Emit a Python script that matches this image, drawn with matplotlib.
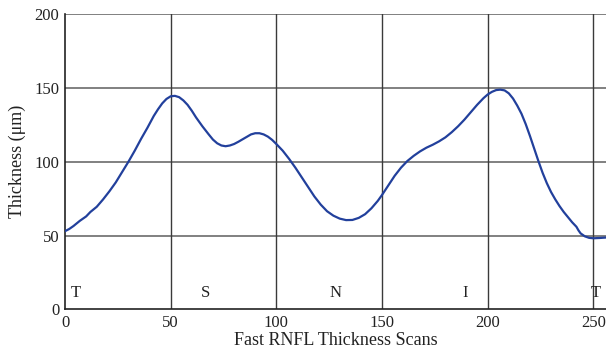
import matplotlib
matplotlib.use("Agg")
import matplotlib.pyplot as plt

# Fast RNFL thickness profile
scan = [0, 2, 4, 7, 10, 12, 15, 18, 21, 24, 27, 30, 33, 36, 39, 42, 44, 46, 48, 50,
        52, 54, 56, 58, 60, 62, 65, 68, 70, 72, 74, 76, 78, 80, 82, 85, 88, 90, 92,
        94, 96, 98, 100, 103, 106, 109, 112, 115, 118, 121, 124, 127, 130, 133, 136,
        139, 142, 145, 148, 150, 153, 156, 159, 162, 165, 168, 171, 174, 177, 180,
        183, 186, 189, 192, 195, 198, 200, 202, 204, 206, 208, 210, 212, 214, 216,
        218, 220, 222, 224, 226, 228, 230, 232, 234, 236, 238, 240, 242, 243, 244,
        246, 248, 250, 253, 256]
thickness = [53, 54.5, 56.5, 60, 63, 66, 69.5, 74.5, 80, 86, 93, 100, 107.5, 115.5, 123, 131, 135.5, 139.5, 142.5, 144.3,
             144.6, 143.7, 141.5, 138.5, 134.5, 130, 124, 118.5, 115, 112.5, 111, 110.5, 111, 112, 113.5, 116, 118.5, 119.3, 119.3,
             118.5, 117, 114.8, 112, 107.5, 102, 96, 89.5, 83, 76.5, 71, 66.5, 63.5, 61.5, 60.5, 60.6,
             62, 64.5, 68.5, 73.5, 77.5, 84, 90.5, 96, 100.5, 104, 107, 109.5, 111.5, 113.8, 116.5,
             120, 124, 128.5, 133.5, 138.5, 143, 145.5, 147.3, 148.5, 148.8, 148.3, 146.3, 142.8, 138, 132.5,
             125.5, 117.5, 109, 100.5, 92.5, 85.5, 79.5, 74.5, 70, 66, 62.5, 59, 56, 53.5, 51.5,
             49.5, 48.5, 48.2, 48.4, 48.7]

sector_x = [5, 66.5, 128, 189.5, 251]
sector_labels = ["T", "S", "N", "I", "T"]

xticks = [0, 50, 100, 150, 200, 250]
yticks = [0, 50, 100, 150, 200]

plt.rcParams['font.family'] = ['Liberation Serif', 'DejaVu Serif']

fig = plt.figure(figsize=(6.06, 3.58), dpi=100)
ax = fig.add_axes([0.1073, 0.1355, 0.8927, 0.8254])

for v in yticks[1:]:
    ax.axhline(v, color='#6b6b6b', lw=1.2, zorder=1)
for v in xticks[1:]:
    ax.axvline(v, color='#3a3a3a', lw=1.0, zorder=1)

ax.plot(scan, thickness, color='#22409c', lw=1.6, zorder=3)

for x, s in zip(sector_x, sector_labels):
    ax.text(x, 11, s, ha='center', va='center', fontsize=12, color='#222222')

ax.set_xlim(0, 256)
ax.set_ylim(0, 200)
ax.set_xticks(xticks)
ax.set_yticks(yticks)
ax.tick_params(length=0, labelsize=12, pad=4, colors='#222222')
ax.spines['right'].set_visible(False)
ax.spines['top'].set_visible(False)
ax.spines['left'].set_color('#222222')
ax.spines['bottom'].set_color('#222222')
ax.spines['left'].set_linewidth(1.2)
ax.spines['bottom'].set_linewidth(1.2)

ax.set_xlabel('Fast RNFL Thickness Scans', fontsize=13, labelpad=1, color='#222222')
ax.set_ylabel('Thickness (μm)', fontsize=13, labelpad=6, color='#222222')

fig.savefig('out.png', dpi=100)
